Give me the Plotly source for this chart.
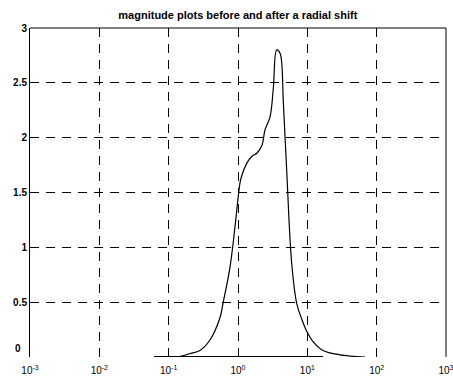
import plotly.graph_objects as go

# magnitude curve (after shift)
curve_x = [0.136, 0.2, 0.283, 0.394, 0.551, 0.608, 0.767, 0.906, 1.07, 1.13, 1.35, 1.59, 1.88,
           2.22, 2.45, 2.90, 3.24, 3.61, 4.04, 4.51, 5.04, 5.94, 7.02, 8.37, 9.89, 12.1,
           16.8, 29.6, 67.9]
curve_y = [0.0, 0.03, 0.06, 0.155, 0.36, 0.49, 0.82, 1.19, 1.59, 1.65, 1.77, 1.83, 1.86,
           1.93, 2.07, 2.19, 2.46, 2.80, 2.77, 2.32, 1.70, 0.86, 0.49, 0.34, 0.23, 0.14,
           0.06, 0.02, 0.0]

# flat curve (before shift)
base_x = [0.0615, 16.8]
base_y = [0.0, 0.0]

x_tickvals = [1e-3, 1e-2, 1e-1, 1, 10, 100, 1000]
x_ticktext = ["10<sup>-3</sup>", "10<sup>-2</sup>", "10<sup>-1</sup>", "10<sup>0</sup>",
              "10<sup>1</sup>", "10<sup>2</sup>", "10<sup>3</sup>"]
y_tickvals = [0, 0.5, 1, 1.5, 2, 2.5, 3]
y_ticktext = ["0", "0.5", "1", "1.5", "2", "2.5", "3"]

title_text = "magnitude plots before and after a radial shift"

FAM = "Liberation Sans, Arial, sans-serif"

fig = go.Figure()
fig.add_trace(go.Scatter(x=base_x, y=base_y, mode="lines",
                         line=dict(color="black", width=2), showlegend=False))
fig.add_trace(go.Scatter(x=curve_x, y=curve_y, mode="lines", line_shape="spline",
                         line=dict(color="black", width=1.2), showlegend=False))

# y tick labels: the "0" label sits raised above its tick, as in the reference
y_labels_axis = ["" if v == 0 else t for v, t in zip(y_tickvals, y_ticktext)]
for v, t in zip(y_tickvals, y_ticktext):
    if v == 0:
        fig.add_annotation(text="<b>" + t + "</b>", x=0, xref="paper", y=v, yref="y",
                           xanchor="right", yanchor="middle", xshift=-7, yshift=9,
                           showarrow=False, font=dict(family=FAM, size=10, color="black"))

fig.update_layout(
    width=453, height=381,
    margin=dict(l=30, r=7, t=28, b=24, autoexpand=False),
    paper_bgcolor="white", plot_bgcolor="white",
    font=dict(family=FAM, size=10, color="black"),
    title=dict(text="<b>" + title_text + "</b>", x=0.525, xanchor="center",
               y=1 - 15 / 381, yanchor="middle",
               font=dict(family=FAM, size=11, color="black")),
    xaxis=dict(type="log", range=[-3.0002, 3.0002], tickvals=x_tickvals, ticktext=x_ticktext,
               showgrid=True, gridcolor="black", gridwidth=1, griddash="9px,7px",
               ticks="inside", ticklen=5, tickcolor="black", ticklabelstandoff=6,
               ticklabeloverflow="allow", automargin=False,
               showline=False, zeroline=False,
               tickfont=dict(family=FAM, size=10, color="black")),
    yaxis=dict(range=[0, 3], tickvals=y_tickvals,
               ticktext=["<b>" + t + "</b>" if t else "" for t in y_labels_axis],
               showgrid=True, gridcolor="black", gridwidth=1, griddash="9px,7px",
               ticks="inside", ticklen=5, tickcolor="black",
               showline=True, linecolor="black", linewidth=1,
               zeroline=False, automargin=False,
               tickfont=dict(family=FAM, size=10, color="black")),
    shapes=[
        dict(type="line", xref="paper", yref="paper", x0=0, x1=1, y0=1, y1=1,
             line=dict(color="black", width=1)),
        dict(type="line", xref="paper", yref="paper", x0=1, x1=1, y0=0, y1=1,
             line=dict(color="black", width=1)),
    ],
)

fig.write_html("out.html")
